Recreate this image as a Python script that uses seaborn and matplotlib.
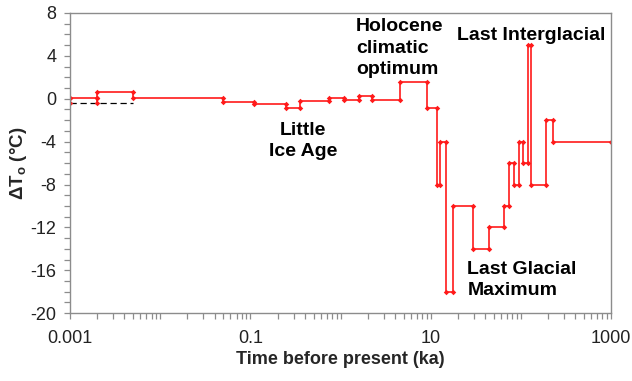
import numpy as np
import pandas as pd
import matplotlib
matplotlib.use("Agg")
import matplotlib.pyplot as plt
import matplotlib.ticker as mticker
import seaborn as sns

# Breakpoints of the reconstructed surface-temperature history (ka before present)
step_times = [0.001, 0.002, 0.005, 0.05, 0.11, 0.25, 0.35, 0.75, 1.1, 1.6, 2.2,
              4.5, 9.0, 11.6, 12.6, 14.6, 17.7, 29.6, 44, 65, 74, 84, 94, 104,
              119, 129, 188, 228, 1000]
# Temperature anomaly held over each interval between consecutive breakpoints (°C)
step_temps = [0.1, 0.65, 0.1, -0.35, -0.5, -0.9, -0.2, 0.05, -0.1, 0.3, -0.1,
              1.6, -0.9, -8, -4, -18, -10, -14, -12, -10, -6, -8, -4, -6,
              5, -8, -2, -4]

# Alternative recent value and present-day reference level
alt_times = [0.001, 0.002]
alt_temp = -0.4
ref_end = 0.005

annotations = [
    ("Little\nIce Age", 0.38, -2.13, "center", "top"),
    ("Holocene\nclimatic\noptimum", 1.48, 7.5, "left", "top"),
    ("Last Interglacial", 131, 5.48, "center", "baseline"),
    ("Last Glacial\nMaximum", 25.4, -15.1, "left", "top"),
]


def step_path(times, temps):
    xs, ys = [], []
    for i, v in enumerate(temps):
        xs += [times[i], times[i + 1]]
        ys += [v, v]
    return xs, ys


sns.set_style("ticks")
plt.rcParams["font.family"] = ["Liberation Sans", "DejaVu Sans"]
plt.rcParams["axes.unicode_minus"] = False
plt.rcParams["mathtext.fontset"] = "custom"
plt.rcParams["mathtext.rm"] = "Liberation Sans:bold"
plt.rcParams["mathtext.it"] = "Liberation Sans:bold"

fig = plt.figure(figsize=(6.32, 3.81), dpi=100)
ax = fig.add_axes([0.111, 0.178, 0.856, 0.788])

red = "#ff1a1a"
line_kw = dict(color=red, linewidth=1.2, marker="D", markersize=2.8,
               markeredgewidth=0, sort=False, estimator=None, ax=ax, legend=False)

# reference level (dashed)
ref = pd.DataFrame({"t": [alt_times[0], ref_end], "T": [alt_temp, alt_temp]})
sns.lineplot(data=ref, x="t", y="T", color="black", linewidth=0.9,
             linestyle=(0, (5, 3)), sort=False, estimator=None, ax=ax, legend=False)

# alternative first interval
alt_x = [alt_times[0], alt_times[0], alt_times[1], alt_times[1]]
alt_y = [step_temps[0], alt_temp, alt_temp, step_temps[0]]
alt = pd.DataFrame({"t": alt_x, "T": alt_y})
sns.lineplot(data=alt.iloc[:2], x="t", y="T", **line_kw)
sns.lineplot(data=alt.iloc[2:], x="t", y="T", **line_kw)

# main step history
xs, ys = step_path(step_times, step_temps)
main = pd.DataFrame({"t": xs, "T": ys})
sns.lineplot(data=main, x="t", y="T", **line_kw)

ax.set_xscale("log")
ax.set_xlim(0.001, 1000)
ax.set_ylim(-20, 8)

ax.xaxis.set_major_locator(mticker.LogLocator(base=10, numticks=20))
ax.xaxis.set_minor_locator(mticker.LogLocator(base=10, subs=np.arange(2, 10), numticks=100))
ax.xaxis.set_minor_formatter(mticker.NullFormatter())
label_map = {0.001: "0.001", 0.1: "0.1", 10: "10", 1000: "1000"}


def fmt_x(v, pos):
    for k, s in label_map.items():
        if abs(np.log10(v) - np.log10(k)) < 1e-6:
            return s
    return ""


ax.xaxis.set_major_formatter(mticker.FuncFormatter(fmt_x))
ax.yaxis.set_major_locator(mticker.MultipleLocator(4))
ax.yaxis.set_minor_locator(mticker.MultipleLocator(1))
ax.yaxis.set_major_formatter(mticker.FuncFormatter(lambda v, p: f"{v:.0f}"))

gray = "#8c8c8c"
for s in ax.spines.values():
    s.set_color(gray)
    s.set_linewidth(1.0)
ax.tick_params(which="both", direction="out", color=gray, width=0.9,
               labelsize=13, labelcolor="#222222")
ax.tick_params(which="major", length=4)
ax.tick_params(which="minor", length=4)
ax.tick_params(axis="x", which="major", pad=8)
ax.tick_params(axis="y", which="major", pad=6)

ax.set_xlabel("Time before present (ka)", fontsize=13, fontweight="bold", labelpad=3)
ax.set_ylabel("ΔT$_{\\mathrm{o}}$ (°C)", fontsize=13.5, fontweight="bold", labelpad=1)

for text, x, y, ha, va in annotations:
    ax.text(x, y, text, ha=ha, va=va, fontsize=14, fontweight="bold",
            color="black", linespacing=1.35)

fig.savefig("out.png", dpi=100)
